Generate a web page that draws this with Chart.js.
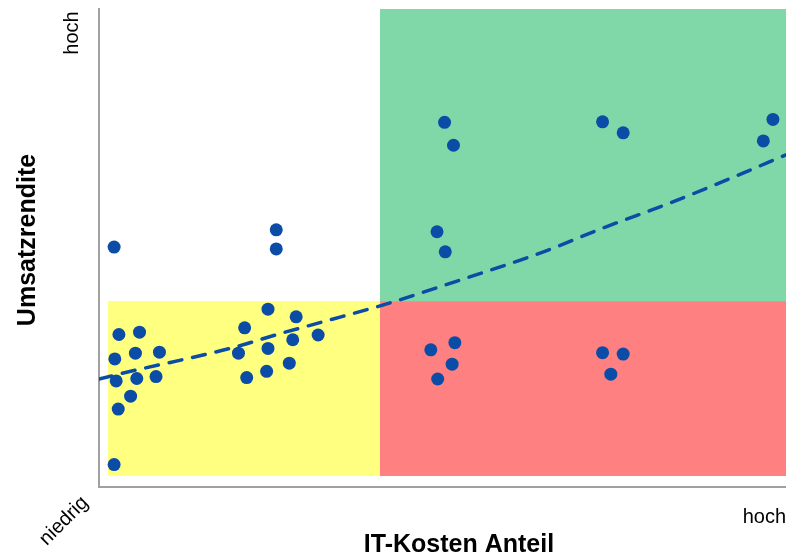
<!DOCTYPE html>
<html lang="de">
<head>
    <meta charset="UTF-8">
    <title>IT-Kosten Anteil vs. Umsatzrendite</title>
    <script src="https://cdn.jsdelivr.net/npm/chart.js"></script>
    <style>
        html, body {
            margin: 0;
            padding: 0;
            overflow: hidden;
            background-color: white;
        }
        canvas {
            display: block;
        }
    </style>
</head>
<body>
    <canvas id="matrixChart" width="786" height="558"></canvas>
    <script>
        // companies: x = IT-Kosten Anteil, y = Umsatzrendite (0..100)
        const firmX = [2.9, 5.9, 2.3, 5.3, 8.8, 2.5, 5.5, 8.3, 4.6, 2.8, 2.2, 2.2,
                       21.2, 24.6, 28.7, 31.9, 28.2, 24.6, 20.3, 21.5, 24.4, 27.7, 25.8, 25.8,
                       50.3, 51.6, 49.2, 50.4, 73.3, 76.3, 96.7, 98.1,
                       48.3, 51.8, 51.4, 49.3, 73.3, 76.3, 74.5];
        const firmY = [31.9, 32.4, 26.8, 28.0, 28.2, 22.2, 22.7, 23.1, 19.0, 16.3, 4.7, 50.2,
                       33.3, 37.2, 35.6, 31.8, 30.8, 29.0, 28.0, 22.9, 24.2, 25.9, 53.8, 49.8,
                       76.3, 71.5, 53.4, 49.2, 76.4, 74.1, 72.4, 76.9,
                       28.7, 30.2, 25.7, 22.6, 28.1, 27.8, 23.6];

        // dashed trend line
        const trendX = [0, 5.5, 13.3, 19.6, 25.9, 32.7, 41.4, 51.1, 64.7, 73.4, 83.1, 92.8, 100];
        const trendY = [22.6, 24.5, 27.0, 29.2, 31.9, 34.6, 38.1, 42.6, 49.2, 54.2, 59.4, 65.1, 69.5];

        // coloured fields (yellow, red, green)
        const fieldXMin = [1.3, 40.9, 40.9];
        const fieldXMax = [40.9, 100, 100];
        const fieldYMin = [2.3, 2.3, 38.9];
        const fieldYMax = [38.9, 38.9, 100];
        const fieldColors = ['#ffff80', '#ff8080', '#80d8a8'];

        const pointColor = '#0a4ca6';

        const fieldsPlugin = {
            id: 'fields',
            beforeDatasetsDraw(chart) {
                const ctx = chart.ctx;
                const xs = chart.scales.x;
                const ys = chart.scales.y;
                ctx.save();
                for (let i = 0; i < fieldColors.length; i++) {
                    const x0 = xs.getPixelForValue(fieldXMin[i]);
                    const x1 = xs.getPixelForValue(fieldXMax[i]);
                    const y0 = ys.getPixelForValue(fieldYMax[i]);
                    const y1 = ys.getPixelForValue(fieldYMin[i]);
                    ctx.fillStyle = fieldColors[i];
                    ctx.fillRect(x0, y0, x1 - x0, y1 - y0);
                }
                ctx.restore();
            }
        };

        const labelsPlugin = {
            id: 'axisTexts',
            afterDraw(chart) {
                const ctx = chart.ctx;
                const area = chart.chartArea;
                ctx.save();
                ctx.fillStyle = '#000';

                // y axis title
                ctx.font = 'bold 25px "Liberation Sans", Arial, sans-serif';
                ctx.textAlign = 'center';
                ctx.textBaseline = 'middle';
                ctx.save();
                ctx.translate(area.left - 71, 240);
                ctx.rotate(-Math.PI / 2);
                ctx.fillText('Umsatzrendite', 0, 0);
                ctx.restore();

                // x axis title
                ctx.fillText('IT-Kosten Anteil', 459, 545);

                ctx.font = '20px "Liberation Sans", Arial, sans-serif';
                // "hoch" top of y axis
                ctx.save();
                ctx.translate(area.left - 27, area.top + 24);
                ctx.rotate(-Math.PI / 2);
                ctx.fillText('hoch', 0, 0);
                ctx.restore();

                // "niedrig" at origin
                ctx.save();
                ctx.translate(area.left - 35, area.bottom + 34);
                ctx.rotate(-Math.PI / 4);
                ctx.fillText('niedrig', 0, 0);
                ctx.restore();

                // "hoch" end of x axis
                ctx.textAlign = 'right';
                ctx.fillText('hoch', 786, area.bottom + 30);
                ctx.restore();
            }
        };

        const firms = firmX.map((x, i) => ({ x: x, y: firmY[i] }));
        const trend = trendX.map((x, i) => ({ x: x, y: trendY[i] }));

        new Chart(document.getElementById('matrixChart'), {
            type: 'scatter',
            data: {
                datasets: [{
                    label: 'Unternehmen',
                    data: firms,
                    backgroundColor: pointColor,
                    borderColor: pointColor,
                    pointRadius: 6.5,
                    borderWidth: 0,
                    order: 1
                }, {
                    type: 'line',
                    label: 'Trend',
                    data: trend,
                    borderColor: pointColor,
                    borderWidth: 3.5,
                    borderDash: [13, 11],
                    borderCapStyle: 'round',
                    pointRadius: 0,
                    fill: false,
                    cubicInterpolationMode: 'monotone',
                    order: 2
                }]
            },
            options: {
                responsive: false,
                animation: false,
                layout: {
                    autoPadding: false,
                    padding: { left: 99, right: 0, top: 9, bottom: 71 }
                },
                plugins: {
                    legend: { display: false },
                    tooltip: { enabled: false }
                },
                scales: {
                    x: {
                        type: 'linear',
                        min: 0,
                        max: 100,
                        grid: { display: false },
                        ticks: { display: false },
                        border: { display: true, color: '#a0a0a0', width: 2 },
                        afterFit(scale) { scale.height = 0; }
                    },
                    y: {
                        type: 'linear',
                        min: 0,
                        max: 100,
                        grid: { display: false },
                        ticks: { display: false },
                        border: { display: true, color: '#a0a0a0', width: 2 },
                        afterFit(scale) { scale.width = 0; }
                    }
                }
            },
            plugins: [fieldsPlugin, labelsPlugin]
        });
    </script>
</body>
</html>
